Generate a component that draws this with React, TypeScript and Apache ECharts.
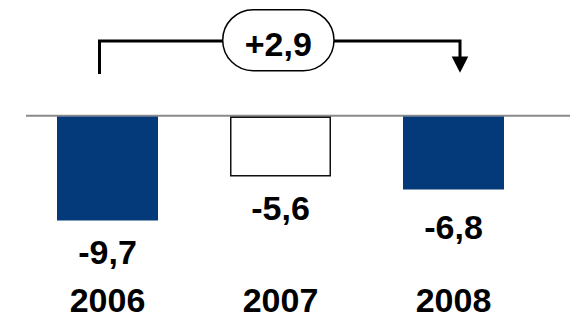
import React, { useEffect, useRef } from "react";
import * as echarts from "echarts";

const years = ["2006", "2007", "2008"];
const values = [-9.7, -5.6, -6.8];
const changeLabel = "+2,9";

const NAVY = "#053a7a";
const FONT = "'Liberation Sans', Arial, Helvetica, sans-serif";

const fmt = (v: number) => String(v).replace(".", ",");

export default function App() {
  const ref = useRef<HTMLDivElement>(null);
  useEffect(() => {
    if (!ref.current) return;
    const chart = echarts.init(ref.current, null, { renderer: "svg" });
    const labelDistances = [14, 14, 21];
    const fills = [NAVY, "#ffffff", NAVY];
    const option: any = {
      animation: false,
      backgroundColor: "#ffffff",
      grid: { left: 21, right: 30, top: 116.5, bottom: 72.7, outerBoundsMode: "none" },
      xAxis: {
        type: "category",
        data: years,
        position: "bottom",
        axisLine: { show: false, onZero: false },
        axisTick: { show: false },
        splitLine: { show: false },
        axisLabel: {
          margin: 40.5,
          fontFamily: FONT,
          fontWeight: "bold",
          fontSize: 34,
          lineHeight: 29,
          color: "#000",
        },
      },
      yAxis: { type: "value", min: -12, max: 0, show: false },
      series: [
        {
          type: "bar",
          barWidth: 101,
          data: values.map((v, i) => ({
            value: v,
            itemStyle: {
              color: fills[i],
              borderColor: i === 1 ? "#111" : fills[i],
              borderWidth: i === 1 ? 1.5 : 0,
            },
            label: { distance: labelDistances[i] },
          })),
          label: {
            show: true,
            position: "bottom",
            formatter: (p: any) => fmt(p.value),
            fontFamily: FONT,
            fontWeight: "bold",
            fontSize: 34,
            lineHeight: 34,
            color: "#000",
          },
        },
      ],
      graphic: [
        {
          type: "line",
          shape: { x1: 26, y1: 115.8, x2: 570, y2: 115.8 },
          style: { stroke: "#8a8a8a", lineWidth: 2 },
          z: 0,
        },
        {
          type: "polyline",
          shape: { points: [[99.5, 74], [99.5, 41], [223, 41]] },
          style: { stroke: "#000", lineWidth: 3, fill: null },
        },
        {
          type: "polyline",
          shape: { points: [[334, 41], [460, 41], [460, 58]] },
          style: { stroke: "#000", lineWidth: 3, fill: null },
        },
        {
          type: "polygon",
          shape: { points: [[451.7, 56.5], [468.3, 56.5], [460, 72.7]] },
          style: { fill: "#000" },
        },
        {
          type: "rect",
          shape: { x: 222.7, y: 9.7, width: 111.3, height: 61, r: 30.5 },
          style: { fill: "#fff", stroke: "#000", lineWidth: 1.5 },
        },
        {
          type: "text",
          x: 278.3,
          y: 44,
          style: {
            text: changeLabel,
            fontFamily: FONT,
            fontWeight: "bold",
            fontSize: 34,
            lineHeight: 34,
            fill: "#000",
            align: "center",
            verticalAlign: "middle",
          },
        },
      ],
    };
    chart.setOption(option);
    return () => chart.dispose();
  }, []);
  return (
    <div
      ref={ref}
      style={{ position: "fixed", left: 0, top: 0, width: 570, height: 318, background: "#fff" }}
    />
  );
}
